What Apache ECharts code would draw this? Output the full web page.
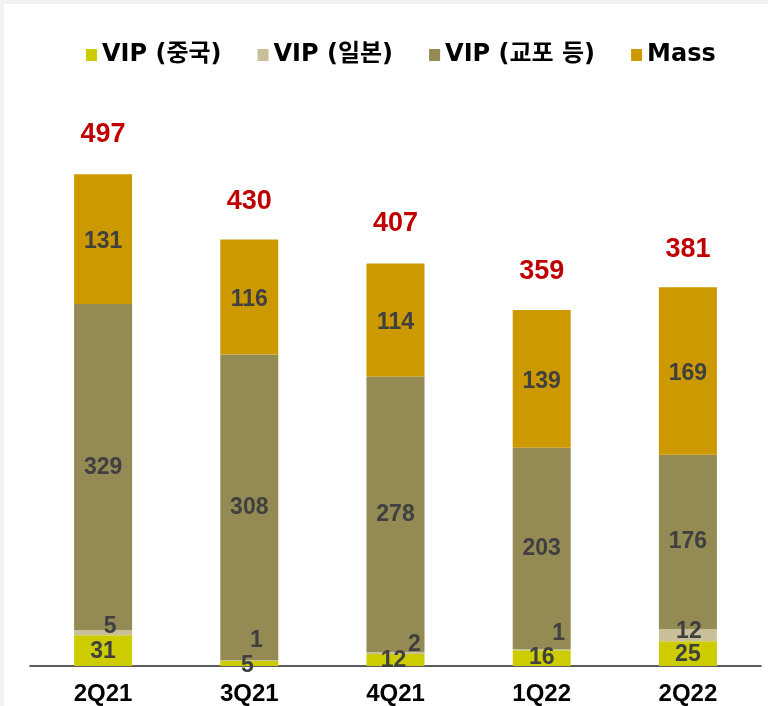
<!DOCTYPE html>
<html>
<head>
<meta charset="utf-8">
<script src="https://cdn.jsdelivr.net/npm/echarts@6/dist/echarts.min.js"></script>
<style>
  html, body { margin: 0; padding: 0; background: #f2f2f2; }
  #chart { position: absolute; left: 4px; top: 4px; width: 764px; height: 702px; background: #fff; }
</style>
</head>
<body>
<div id="chart"></div>
<script>
// data
const quarters = ['2Q21', '3Q21', '4Q21', '1Q22', '2Q22'];
const vipChina = [31, 5, 12, 16, 25];
const vipJapan = [5, 1, 2, 1, 12];
const vipOther = [329, 308, 278, 203, 176];
const mass = [131, 116, 114, 139, 169];
const totals = [497, 430, 407, 359, 381];

const FONT = '"Liberation Sans", Arial, "Noto Sans CJK KR", sans-serif';
// legend text in the original is noticeably wider
const LEGEND_FONT = '"DejaVu Sans", "Noto Sans CJK KR", sans-serif';
const labelStyle = {
  show: true,
  position: 'inside',
  color: '#404040',
  fontFamily: FONT,
  fontWeight: 'bold',
  fontSize: 23
};

// small segments need their labels nudged like in the original
const chinaOffsets = [[0, 1], [-2, 2], [-2, 1], [0, 0], [0, 1]];
const japanOffsets = [[7, -6], [7, -20], [19, -8], [17, -16], [1, -4]];

function withOffsets(values, offsets) {
  return values.map((v, i) => ({
    value: v,
    label: { offset: offsets[i] }
  }));
}

let chart = echarts.init(document.getElementById('chart'));
let option = {
  animation: false,
  legend: {
    data: ['VIP (중국)', 'VIP (일본)', 'VIP (교포 등)', 'Mass'],
    left: 77,
    top: 34,
    itemWidth: 11,
    itemHeight: 12,
    itemGap: 36,
    itemTextGap: 4,
    icon: 'rect',
    textStyle: {
      fontFamily: LEGEND_FONT,
      fontWeight: 'bold',
      fontSize: 24,
      color: '#000'
    }
  },
  grid: {
    left: 26,
    right: 7,
    top: 67,
    bottom: 40
  },
  xAxis: {
    type: 'category',
    data: quarters,
    axisLine: { lineStyle: { color: '#262626', width: 1.5 } },
    axisTick: { show: false },
    axisLabel: {
      color: '#000',
      fontFamily: FONT,
      fontWeight: 'bold',
      fontSize: 24,
      margin: 16
    }
  },
  yAxis: {
    type: 'value',
    min: 0,
    max: 600,
    show: false,
    splitLine: { show: false }
  },
  series: [
    {
      name: 'total',
      type: 'bar',
      data: totals,
      barWidth: 58,
      barGap: '-100%',
      itemStyle: { color: 'rgba(0,0,0,0)' },
      silent: true,
      z: 1,
      label: {
        show: true,
        position: 'top',
        distance: 25,
        color: '#c00000',
        fontFamily: FONT,
        fontWeight: 'bold',
        fontSize: 27
      }
    },
    {
      name: 'VIP (중국)',
      type: 'bar',
      stack: 'all',
      barWidth: 58,
      data: withOffsets(vipChina, chinaOffsets),
      itemStyle: { color: '#cccc00' },
      label: labelStyle,
      z: 2
    },
    {
      name: 'VIP (일본)',
      type: 'bar',
      stack: 'all',
      barWidth: 58,
      data: withOffsets(vipJapan, japanOffsets),
      itemStyle: { color: '#c9c09b' },
      label: labelStyle,
      z: 2
    },
    {
      name: 'VIP (교포 등)',
      type: 'bar',
      stack: 'all',
      barWidth: 58,
      data: vipOther,
      itemStyle: { color: '#948a54' },
      label: labelStyle,
      z: 2
    },
    {
      name: 'Mass',
      type: 'bar',
      stack: 'all',
      barWidth: 58,
      data: mass,
      itemStyle: { color: '#cc9900' },
      label: Object.assign({}, labelStyle, { offset: [0, 3] }),
      z: 2
    }
  ]
};
chart.setOption(option);
</script>
</body>
</html>
